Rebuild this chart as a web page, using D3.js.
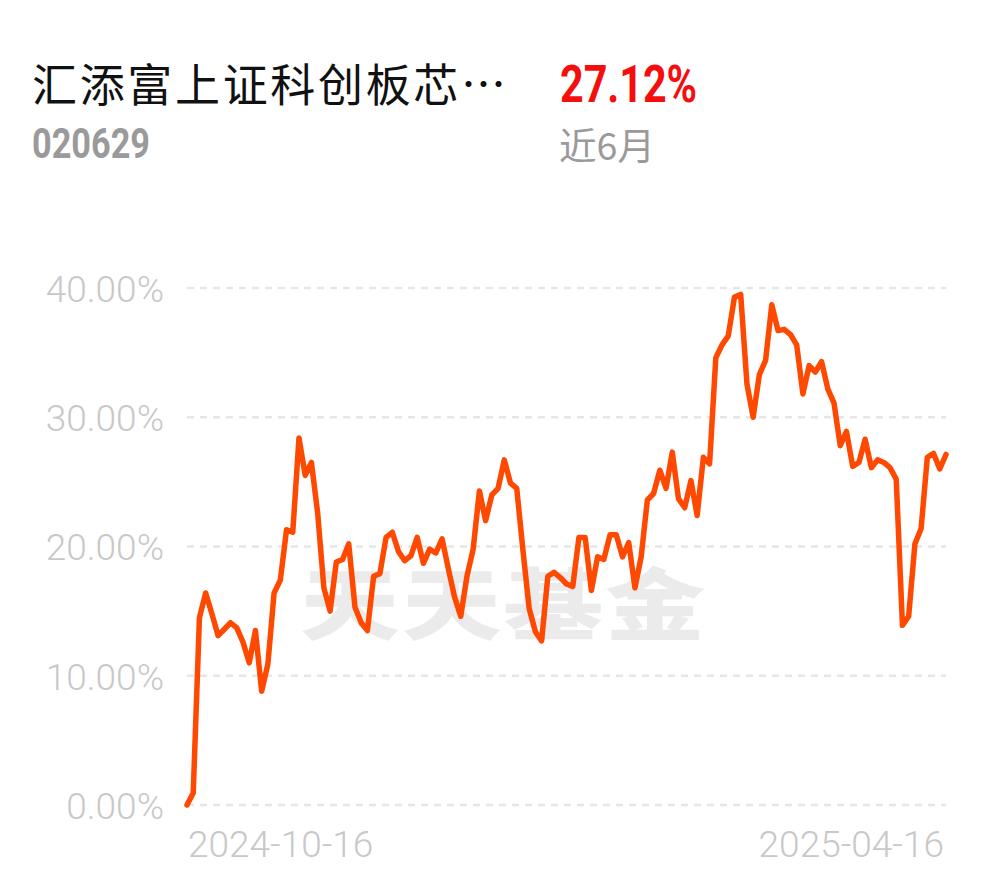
<!DOCTYPE html>
<html><head><meta charset="utf-8">
<script src="https://cdn.jsdelivr.net/npm/d3@7"></script>
<style>
html,body{margin:0;padding:0;background:#fff;}
svg{display:block;}
</style></head>
<body>
<svg id="chart" width="990" height="878"></svg>
<script>
const fundName = "汇添富上证科创板芯…";
const fundCode = "020629";
const periodReturn = "27.12%";
const periodLabel = "近6月";
const watermark = "天天基金";
const xTickLabels = ["2024-10-16", "2025-04-16"];
const yTicks = [0, 10, 20, 30, 40];
const values = [
  0, 0.93, 14.5, 16.4, 14.8, 13.1, 13.6, 14.1, 13.7, 12.6,
  11.0, 13.5, 8.8, 10.9, 16.4, 17.4, 21.3, 21.1, 28.4, 25.5,
  26.5, 22.6, 16.8, 15.0, 18.8, 19.0, 20.2, 15.3, 14.1, 13.5,
  17.7, 17.9, 20.7, 21.1, 19.6, 18.9, 19.3, 20.7, 18.7, 19.8,
  19.5, 20.6, 18.3, 16.1, 14.6, 17.7, 19.8, 24.3, 22.0, 24.0,
  24.5, 26.7, 24.9, 24.5, 19.7, 15.2, 13.4, 12.7, 17.7, 18.0,
  17.6, 17.1, 16.9, 20.7, 20.7, 16.6, 19.2, 19.0, 20.9, 20.9,
  19.2, 20.3, 16.8, 19.2, 23.6, 24.1, 25.9, 24.5, 27.3, 23.7,
  23.0, 25.1, 22.4, 26.9, 26.4, 34.6, 35.6, 36.3, 39.3, 39.5,
  32.6, 30.0, 33.3, 34.4, 38.7, 36.7, 36.8, 36.4, 35.6, 31.8,
  34.0, 33.5, 34.3, 32.2, 31.1, 27.8, 28.9, 26.2, 26.5, 28.3,
  26.1, 26.7, 26.5, 26.1, 25.2, 13.9, 14.6, 20.2, 21.4, 26.9,
  27.2, 26.0, 27.12
];

const svg = d3.select("#chart");
const plotLeft = 187, plotRight = 946, plotTop = 288, plotBottom = 805;

const x = d3.scaleLinear().domain([0, values.length - 1]).range([plotLeft, plotRight]);
const y = d3.scaleLinear().domain([0, 40]).range([plotBottom, plotTop]);

// Header
svg.append("text").attr("x", 32).attr("y", 102)
  .attr("font-family", "'Noto Sans CJK SC', sans-serif")
  .attr("font-size", 45).attr("fill", "#111")
  .attr("textLength", 474).attr("lengthAdjust", "spacing")
  .text(fundName);
svg.append("text").attr("x", 560).attr("y", 102)
  .attr("font-family", "Roboto, sans-serif").attr("font-weight", 700)
  .attr("font-size", 52).attr("fill", "#f50e0e")
  .attr("textLength", 137).attr("lengthAdjust", "spacingAndGlyphs")
  .text(periodReturn);
svg.append("text").attr("x", 32).attr("y", 158)
  .attr("font-family", "Roboto, sans-serif").attr("font-weight", 700)
  .attr("font-size", 42).attr("fill", "#9a9a9a")
  .attr("textLength", 118).attr("lengthAdjust", "spacingAndGlyphs")
  .text(fundCode);
svg.append("text").attr("x", 559).attr("y", 160)
  .attr("font-family", "'Noto Sans CJK SC', sans-serif")
  .attr("font-size", 37).attr("fill", "#9a9a9a")
  .attr("textLength", 96).attr("lengthAdjust", "spacingAndGlyphs")
  .text(periodLabel);

// Watermark
svg.append("text").attr("x", 300).attr("y", 0)
  .attr("transform", "translate(0,634) scale(1,0.78)")
  .attr("font-family", "'Noto Sans CJK SC', serif").attr("font-weight", 900)
  .attr("font-size", 100).attr("fill", "#000").attr("opacity", 0.075)
  .attr("textLength", 405).attr("lengthAdjust", "spacing")
  .text(watermark);

// Grid lines
const grid = svg.append("g");
grid.selectAll("line").data(yTicks).join("line")
  .attr("x1", plotLeft).attr("x2", plotRight)
  .attr("y1", d => y(d)).attr("y2", d => y(d))
  .attr("stroke", "#e6e6e6").attr("stroke-width", 2.5)
  .attr("stroke-dasharray", "7,6");

// Y axis labels
const yAxis = d3.axisLeft(y).tickValues(yTicks)
  .tickFormat(d => d.toFixed(2) + "%").tickSize(0).tickPadding(0);
const ya = svg.append("g").attr("transform", `translate(164,0)`).call(yAxis);
ya.select(".domain").remove();
ya.selectAll("text")
  .attr("font-family", "Roboto, sans-serif").attr("font-weight", 300)
  .attr("font-size", 37).attr("fill", "#c8c8c8").attr("dy", "0.36em");

// X labels
const xLabelPos = [0, values.length - 1];
svg.append("g").selectAll("text").data(xLabelPos).join("text")
  .attr("x", d => x(d) + (d === 0 ? 1 : -2))
  .attr("y", 857)
  .attr("text-anchor", (d, i) => i === 0 ? "start" : "end")
  .attr("font-family", "Roboto, sans-serif").attr("font-weight", 300)
  .attr("font-size", 37).attr("fill", "#c8c8c8")
  .text((d, i) => xTickLabels[i]);

// Line
const line = d3.line().x((d, i) => x(i)).y(d => y(d));
svg.append("path").datum(values)
  .attr("d", line)
  .attr("fill", "none").attr("stroke", "#ff4800")
  .attr("stroke-width", 5.5).attr("stroke-linejoin", "round").attr("stroke-linecap", "round");
</script>
</body></html>
